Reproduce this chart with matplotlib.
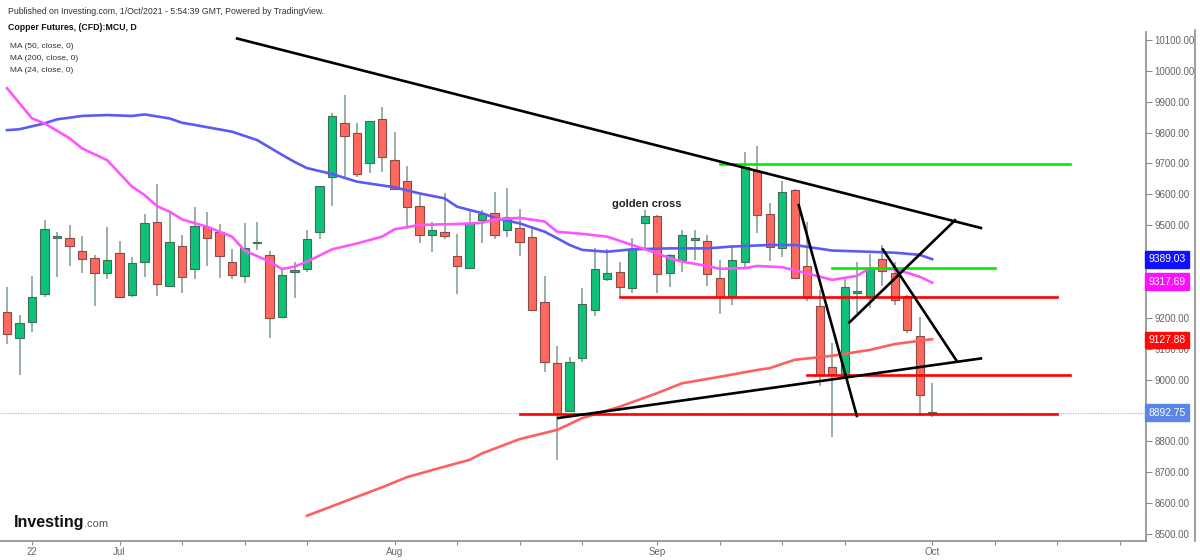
import matplotlib
matplotlib.use("Agg")
import matplotlib.pyplot as plt
from matplotlib.lines import Line2D
import matplotlib.transforms as mtransforms

plt.rcParams['font.family'] = ['Liberation Sans', 'DejaVu Sans']

# daily candles, Jun 18 .. Oct 1 2021 (index 0 = Jun 18)
opens = [9220, 9136, 9187, 9277, 9460, 9458, 9417, 9393, 9345, 9411,
         9273, 9380, 9512, 9302, 9434, 9357, 9495, 9478, 9382, 9336,
         9442, 9403, 9204, 9350, 9358, 9479, 9655, 9832, 9798, 9701,
         9843, 9711, 9644, 9562, 9468, 9478, 9400, 9360, 9517, 9541,
         9485, 9492, 9463, 9252, 9055, 8898, 9071, 9226, 9327, 9349,
         9296, 9506, 9530, 9346, 9387, 9453, 9450, 9328, 9268, 9382,
         9677, 9536, 9427, 9614, 9368, 9238, 9042, 9009, 9281, 9268,
         9390, 9344, 9272, 9142, 8890]
closes = [9148, 9184, 9268, 9488, 9464, 9432, 9392, 9345, 9387, 9269,
          9377, 9508, 9309, 9445, 9332, 9498, 9458, 9400, 9338, 9425,
          9446, 9199, 9340, 9354, 9455, 9627, 9854, 9790, 9665, 9839,
          9720, 9616, 9558, 9468, 9483, 9466, 9369, 9506, 9535, 9468,
          9526, 9445, 9226, 9058, 8888, 9058, 9244, 9357, 9344, 9301,
          9422, 9530, 9341, 9404, 9468, 9457, 9341, 9268, 9387, 9690,
          9533, 9430, 9609, 9330, 9267, 9015, 9017, 9301, 9285, 9357,
          9352, 9258, 9161, 8950, 8893]
highs = [9300, 9209, 9336, 9517, 9479, 9501, 9465, 9404, 9495, 9449,
         9398, 9536, 9634, 9541, 9468, 9558, 9542, 9503, 9422, 9506,
         9510, 9417, 9355, 9382, 9483, 9627, 9863, 9922, 9832, 9839,
         9882, 9803, 9692, 9598, 9512, 9603, 9472, 9552, 9549, 9609,
         9622, 9553, 9490, 9336, 9109, 9074, 9296, 9425, 9422, 9382,
         9458, 9549, 9532, 9406, 9483, 9485, 9468, 9387, 9436, 9738,
         9757, 9573, 9644, 9616, 9512, 9290, 9118, 9333, 9382, 9407,
         9436, 9382, 9275, 9202, 8988]
lows = [9115, 9015, 9155, 9269, 9333, 9369, 9344, 9239, 9325, 9265,
        9269, 9331, 9271, 9300, 9280, 9325, 9368, 9328, 9326, 9314,
        9420, 9134, 9202, 9263, 9350, 9455, 9562, 9657, 9657, 9668,
        9672, 9614, 9487, 9441, 9412, 9455, 9277, 9358, 9444, 9455,
        9463, 9400, 9224, 9026, 8740, 8896, 9058, 9206, 9319, 9268,
        9280, 9420, 9280, 9301, 9350, 9387, 9303, 9212, 9242, 9366,
        9476, 9385, 9398, 9325, 9256, 8979, 8815, 9007, 9217, 9231,
        9303, 9242, 9150, 8882, 8880]

# moving averages (candle index, value)
ma50_idx = [0, 1, 3, 4, 6, 8, 10, 11, 13, 14, 15, 18, 20, 22, 23, 24, 26, 28,
            31, 33, 35, 36, 38, 39, 41, 43, 44, 45, 46, 48, 50, 53, 56, 58,
            61, 63, 66, 69, 71, 73, 74]
ma50_val = [9808, 9811, 9830, 9843, 9854, 9857, 9854, 9859, 9846, 9832, 9825,
            9803, 9776, 9728, 9705, 9685, 9666, 9641, 9623, 9603, 9587, 9560,
            9539, 9524, 9506, 9479, 9458, 9436, 9420, 9414, 9422, 9425, 9425,
            9431, 9436, 9436, 9418, 9414, 9411, 9404, 9390]
ma24_idx = [0, 2, 3, 5, 6, 8, 9, 10, 11, 12, 13, 14, 16, 18, 19, 21, 22, 23,
            24, 26, 28, 30, 31, 33, 36, 38, 39, 41, 43, 44, 46, 48, 50, 52,
            53, 54, 56, 57, 59, 60, 62, 64, 66, 68, 69, 71, 72, 73, 74]
ma24_val = [9944, 9846, 9830, 9782, 9749, 9711, 9668, 9625, 9598, 9562, 9544,
            9519, 9495, 9463, 9418, 9382, 9358, 9366, 9382, 9422, 9441, 9463,
            9487, 9501, 9504, 9508, 9519, 9524, 9512, 9479, 9472, 9463, 9436,
            9409, 9393, 9382, 9368, 9359, 9361, 9368, 9364, 9344, 9323, 9336,
            9361, 9357, 9346, 9333, 9314]
ma200_idx = [24, 27, 30, 32, 35, 37, 38, 41, 44, 46, 49, 52, 54, 57, 60, 61,
             63, 66, 69, 71, 74]
ma200_val = [8559, 8605, 8651, 8684, 8718, 8740, 8761, 8807, 8837, 8875, 8912,
             8956, 8988, 9009, 9031, 9037, 9064, 9077, 9096, 9115, 9131]

last_price = 8892.75
ma_last = [9389.03, 9317.69, 9127.88]

# drawings: ((idx0, price0), (idx1, price1))
black_lines = [((18.3, 10106), (78.0, 9490)),
               ((44.0, 8875), (78.0, 9069)),
               ((63.3, 9569), (68.0, 8878)),
               ((67.3, 9182), (75.9, 9519)),
               ((70.0, 9425), (76.0, 9058))]
red_levels = [(8888, 41.0, 84.0), (9268, 49.0, 84.0), (9015, 64.0, 85.0)]
green_levels = [(9697, 57.0, 85.0), (9361, 66.0, 79.0)]

tick_idx = [2, 9, 14, 19, 24, 31, 36, 41, 46, 52, 57, 62, 67, 74, 79, 84, 89]
tick_lab = ['22', 'Jul', '', '', '', 'Aug', '', '', '', 'Sep', '', '', '', 'Oct', '', '', '']
price_ticks = list(range(8500, 10101, 100))
hidden_ticks = [8900, 9300, 9400]   # covered by the price boxes

fig = plt.figure(figsize=(12, 5.6), dpi=100)
ax = fig.add_axes([0, 19 / 560, 1146 / 1200, (541 - 32) / 560])

up_c, up_e = '#0fc27a', '#3e6e55'
dn_c, dn_e = '#ff685e', '#8a4a45'
wick_c = '#7f9a8c'

for i in range(len(opens)):
    o, c, h, l = opens[i], closes[i], highs[i], lows[i]
    up = c >= o
    ax.vlines(i, l, h, color=wick_c, lw=1.1, zorder=2)
    ax.bar(i, max(abs(c - o), 5), bottom=min(o, c), width=0.66,
           color=up_c if up else dn_c, edgecolor=up_e if up else dn_e,
           lw=0.8, zorder=3)

ax.plot(ma50_idx, ma50_val, color='#5a5af5', lw=1.9, zorder=4)
ax.plot(ma24_idx, ma24_val, color='#ff55ff', lw=1.9, zorder=4)
ax.plot(ma200_idx, ma200_val, color='#ff5f5f', lw=1.9, zorder=4)

ax.axhline(last_price, color='#a9bff2', lw=0.9, ls=(0, (1, 1)), zorder=1)

for (x0, y0), (x1, y1) in black_lines:
    ax.plot([x0, x1], [y0, y1], color='black', lw=1.9, zorder=6, solid_capstyle='butt')
for p, x0, x1 in red_levels:
    ax.plot([x0, x1], [p, p], color='#ff0000', lw=1.9, zorder=5)
for p, x0, x1 in green_levels:
    ax.plot([x0, x1], [p, p], color='#00ee00', lw=1.9, zorder=5)

ax.text(51.2, 9553, 'golden cross', fontsize=8, fontweight='bold',
        color='#222222', ha='center', va='bottom')

ax.set_xlim(-0.56, 91.1)
ax.set_ylim(8477, 10126)
ax.set_xticks(tick_idx)
ax.set_xticklabels(tick_lab)
ax.set_yticks(price_ticks)
ax.set_yticklabels(['' if v in hidden_ticks else '%.2f' % v for v in price_ticks])
ax.yaxis.tick_right()
for s in ['left', 'top']:
    ax.spines[s].set_visible(False)
for s in ['right', 'bottom']:
    ax.spines[s].set_color('#8c8c8c')
    ax.spines[s].set_linewidth(1.2)
ax.tick_params(axis='both', colors='#8c8c8c', labelcolor='#666666',
               labelsize=7, length=4, width=0.8)
ax.tick_params(axis='x', pad=1, length=3)
ax.tick_params(axis='y', pad=2)

# price boxes on the right axis
trans = mtransforms.blended_transform_factory(ax.transAxes, ax.transData)
box_cols = ['#1010ff', '#ff10ff', '#ff0a0a']
for v, col in zip(ma_last, box_cols):
    ax.text(1.002, v, '%.2f' % v, transform=trans, fontsize=7.4, color='white',
            va='center', ha='left', clip_on=False, zorder=10,
            bbox=dict(boxstyle='square,pad=0.32', fc=col, ec=col))
ax.text(1.002, last_price, '%.2f' % last_price, transform=trans, fontsize=7.4,
        color='white', va='center', ha='left', clip_on=False, zorder=10,
        bbox=dict(boxstyle='square,pad=0.32', fc='#5a86e8', ec='#5a86e8'))

fig.add_artist(Line2D([1195 / 1200] * 2, [19 / 560, 1 - 30 / 560],
                      color='#8c8c8c', lw=1.2))

# header
fig.text(8 / 1200, 1 - 11 / 560, 'Published on Investing.com, 1/Oct/2021 - 5:54:39 GMT, Powered by TradingView.',
         fontsize=6.3, color='#333333', va='center')
fig.text(8 / 1200, 1 - 27 / 560, 'Copper Futures, (CFD):MCU, D',
         fontsize=6.3, fontweight='bold', color='#111111', va='center')
for k, t in enumerate(['MA (50, close, 0)', 'MA (200, close, 0)', 'MA (24, close, 0)']):
    fig.text(10 / 1200, 1 - (46 + 12 * k) / 560, t, fontsize=6,
             color='#333333', va='center')

# logo
fig.text(14 / 1200, 1 - 522 / 560, 'Investing', fontsize=11.5, fontweight='bold',
         family=['Liberation Sans Narrow', 'Liberation Sans', 'DejaVu Sans'],
         color='#111111', va='center')
fig.text(84 / 1200, 1 - 524 / 560, '.com', fontsize=8,
         family=['Liberation Sans Narrow', 'Liberation Sans', 'DejaVu Sans'],
         color='#555555', va='center')

fig.savefig('out.png', dpi=100, facecolor='white')
